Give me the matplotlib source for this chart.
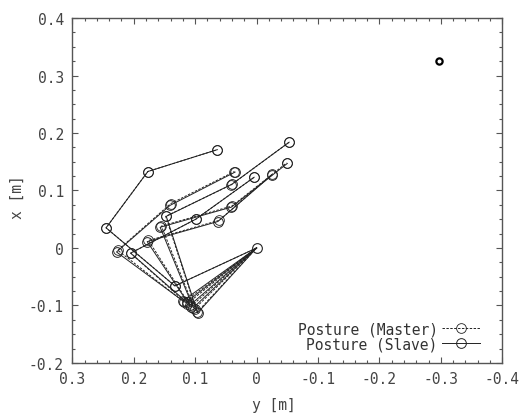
import numpy as np
import matplotlib.pyplot as plt
from matplotlib.ticker import MultipleLocator

plt.rcParams['font.family'] = ['DejaVu Sans Mono']

# joint positions for each posture (horizontal = y [m], vertical = x [m])
base_y, base_x = 0.0, 0.0

# slave
s_j1_y = [0.133, 0.120, 0.114, 0.109, 0.103, 0.096]
s_j1_x = [-0.066, -0.092, -0.094, -0.100, -0.104, -0.113]
s_j2_y = [0.245, 0.228, 0.205, 0.178, 0.157, 0.147]
s_j2_x = [0.035, -0.007, -0.009, 0.011, 0.036, 0.055]
s_j3_y = [0.177, 0.141, 0.099, 0.063, 0.041, 0.040]
s_j3_x = [0.133, 0.074, 0.050, 0.046, 0.071, 0.111]
s_j4_y = [0.064, 0.035, 0.004, -0.025, -0.050, -0.053]
s_j4_x = [0.171, 0.132, 0.123, 0.127, 0.147, 0.184]

# master
m_j1_y = [0.133, 0.118, 0.113, 0.107, 0.101, 0.097]
m_j1_x = [-0.066, -0.094, -0.097, -0.102, -0.106, -0.112]
m_j2_y = [0.245, 0.226, 0.205, 0.176, 0.155, 0.148]
m_j2_x = [0.035, -0.004, -0.009, 0.013, 0.038, 0.055]
m_j3_y = [0.177, 0.140, 0.099, 0.061, 0.040, 0.041]
m_j3_x = [0.133, 0.077, 0.050, 0.048, 0.073, 0.110]
m_j4_y = [0.064, 0.036, 0.004, -0.025, -0.049, -0.053]
m_j4_x = [0.171, 0.133, 0.123, 0.128, 0.148, 0.184]

target_y = [-0.297]
target_x = [0.326]

fig = plt.figure(figsize=(5.2, 4.14), dpi=100)
ax = fig.add_axes([0.139, 0.121, 0.827, 0.833])

def draw(j1y, j1x, j2y, j2x, j3y, j3x, j4y, j4x, **kw):
    h = None
    for k in range(len(j1y)):
        ys = [base_y, j1y[k], j2y[k], j3y[k], j4y[k]]
        xs = [base_x, j1x[k], j2x[k], j3x[k], j4x[k]]
        h, = ax.plot(ys, xs, markevery=slice(1, None), **kw)
    return h

hm = draw(m_j1_y, m_j1_x, m_j2_y, m_j2_x, m_j3_y, m_j3_x, m_j4_y, m_j4_x,
          color='#222222', lw=0.7, ls=(0, (2.5, 1.5)), marker='o', ms=7,
          mfc='none', mew=0.6)
hs = draw(s_j1_y, s_j1_x, s_j2_y, s_j2_x, s_j3_y, s_j3_x, s_j4_y, s_j4_x,
          color='#222222', lw=0.7, marker='o', ms=7, mfc='none', mew=0.7)
# shoulder (base) drawn once
ax.plot([base_y], [base_x], ls='none', marker='o', ms=7, mfc='none',
        mec='#222222', mew=0.8)

ax.plot(target_y, target_x, ls='none', marker='o', ms=4.5, mfc='none',
        mec='black', mew=1.6)

ax.set_xlim(0.3, -0.4)
ax.set_ylim(-0.2, 0.4)
ax.xaxis.set_major_locator(MultipleLocator(0.1))
ax.xaxis.set_minor_locator(MultipleLocator(0.02))
ax.yaxis.set_major_locator(MultipleLocator(0.1))
ax.yaxis.set_minor_locator(MultipleLocator(0.025))
ax.xaxis.set_major_formatter(lambda v, p: '0' if abs(v) < 1e-9 else '%.1f' % v)
ax.yaxis.set_major_formatter(lambda v, p: '0' if abs(v) < 1e-9 else '%.1f' % v)
ax.tick_params(which='both', direction='in', top=True, right=True,
               colors='#555555', labelcolor='#444444', labelsize=10.5, width=0.8)
ax.tick_params(which='major', length=4, pad=6)
ax.tick_params(which='minor', length=2)
for s in ax.spines.values():
    s.set_color('#555555')
    s.set_linewidth(1.0)

ax.set_xlabel('y [m]', fontsize=10.5, color='#444444')
ax.set_ylabel('x [m]', fontsize=10.5, color='#444444')
ax.xaxis.set_label_coords(0.469, -0.098)
ax.yaxis.set_label_coords(-0.111, 0.484)

leg = ax.legend([hm, hs], ['Posture (Master)', 'Posture (Slave)'],
                loc='lower right', bbox_to_anchor=(0.965, 0.012),
                frameon=False, markerfirst=False, handlelength=2.6,
                labelspacing=0.0, handletextpad=0.3, borderpad=0,
                fontsize=10.5)
for t in leg.get_texts():
    t.set_color('#333333')

fig.savefig('out.png', dpi=100)
